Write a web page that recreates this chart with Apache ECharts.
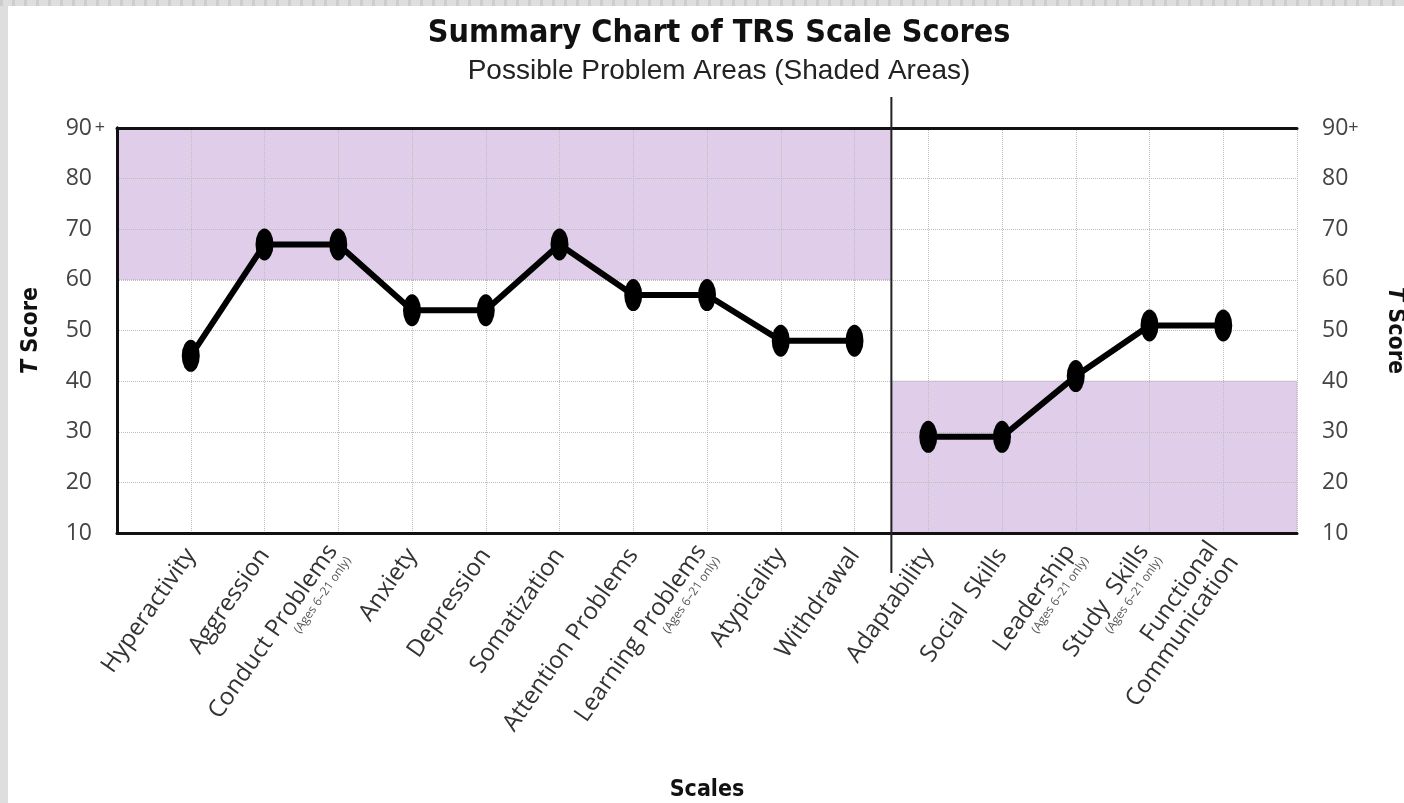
<!DOCTYPE html>
<html>
<head>
<meta charset="utf-8">
<title>Summary Chart of TRS Scale Scores</title>
<script src="https://cdn.jsdelivr.net/npm/echarts@6/dist/echarts.min.js"></script>
<style>
  html, body { margin: 0; padding: 0; width: 1404px; height: 803px; overflow: hidden;
    background: repeating-linear-gradient(90deg, #cdcdcd 0 3px, #dedede 3px 12px) top left / 100% 6px no-repeat, #dedede; }
  #chart { position: absolute; left: 8px; top: 6px; width: 1396px; height: 797px; background: #fff; }
</style>
</head>
<body>
<div id="chart"></div>
<script>
  // scale names along the x axis (positions 1..15)
  var scaleNames = ['Hyperactivity', 'Aggression', 'Conduct Problems', 'Anxiety', 'Depression',
    'Somatization', 'Attention Problems', 'Learning Problems', 'Atypicality', 'Withdrawal',
    'Adaptability', 'Social  Skills', 'Leadership', 'Study  Skills', 'Functional\nCommunication']
  var scaleNotes = ['', '', '(Ages 6–21 only)', '', '', '', '', '(Ages 6–21 only)', '', '',
    '', '', '(Ages 6–21 only)', '(Ages 6–21 only)', '']

  // T scores, clinical scales first then adaptive scales
  var clinicalScores = [45, 67, 67, 54, 54, 67, 57, 57, 48, 48]
  var adaptiveScores = [29, 29, 41, 51, 51]

  // y axis ticks
  var yMin = 10
  var yMax = 90
  var yStep = 10

  // shaded "possible problem" areas: [x from, x to], [T low, T high]
  var clinicalZoneX = [0, 10.5]
  var clinicalZoneY = [60, 90]
  var adaptiveZoneX = [10.5, 16]
  var adaptiveZoneY = [10, 40]
  var dividerAt = 10.5

  var chart = echarts.init(document.getElementById('chart'))

  var clinicalData = clinicalScores.map(function (v, i) { return [i + 1, v] })
  var adaptiveData = adaptiveScores.map(function (v, i) { return [clinicalScores.length + i + 1, v] })

  function scaleLabel(v) {
    var i = v - 1
    if (i < 0 || i >= scaleNames.length) return ''
    var s = scaleNames[i].split('\n').map(function (t) { return '{n|' + t + '}' }).join('\n')
    if (scaleNotes[i]) s += '\n{s|' + scaleNotes[i] + '}'
    return s
  }

  var lineStyle = { color: '#000', width: 6 }
  var pointStyle = { color: '#000' }
  var border = { show: true, lineStyle: { color: '#111', width: 3 } }
  var boldFont = 'DejaVu Sans Condensed, DejaVu Sans, sans-serif'
  var nameStyle = {
    fontFamily: boldFont, fontWeight: 'bold', fontSize: 23, color: '#111',
    rich: { i: { fontStyle: 'italic', fontWeight: 'bold', fontSize: 23, fontFamily: boldFont, color: '#111' } }
  }
  var tickRich = {
    v: { fontSize: 23, color: '#444', fontFamily: 'Open Sans, sans-serif' },
    p: { fontSize: 18, color: '#444', fontFamily: 'Open Sans, sans-serif', width: 16, align: 'left' },
    g: { width: 16 }
  }

  chart.setOption({
    animation: false,
    textStyle: { fontFamily: 'Open Sans, sans-serif' },
    title: {
      text: 'Summary Chart of TRS Scale Scores',
      subtext: 'Possible Problem Areas (Shaded Areas)',
      left: 706,
      textAlign: 'center',
      top: 7,
      itemGap: 7,
      textStyle: { fontFamily: boldFont, fontWeight: 'bold', fontSize: 32, color: '#111' },
      subtextStyle: { fontFamily: 'Liberation Sans Narrow, sans-serif', fontSize: 28, color: '#222' }
    },
    grid: { left: 109, right: 107, top: 122, bottom: 270, outerBoundsMode: 'none' },
    xAxis: [{
      type: 'value',
      min: 0,
      max: 16,
      interval: 1,
      z: 3,
      name: 'Scales',
      nameLocation: 'middle',
      nameGap: 246,
      nameTextStyle: { fontFamily: boldFont, fontWeight: 'bold', fontSize: 23, color: '#111' },
      axisLine: border,
      axisTick: { show: false },
      splitLine: { show: true, lineStyle: { color: '#bdbdbd', type: 'dotted', width: 1 } },
      axisLabel: {
        rotate: 55,
        margin: 18,
        color: '#333',
        formatter: scaleLabel,
        rich: {
          n: { fontSize: 24, color: '#333', fontFamily: 'Open Sans, sans-serif', lineHeight: 25 },
          s: { fontSize: 12, color: '#555', fontFamily: 'Open Sans, sans-serif', lineHeight: 14 }
        }
      }
    }, {
      type: 'value',
      position: 'top',
      min: 0,
      max: 16,
      z: 3,
      axisLine: border,
      axisTick: { show: false },
      axisLabel: { show: false },
      splitLine: { show: false }
    }],
    yAxis: [{
      type: 'value',
      min: yMin,
      max: yMax,
      interval: yStep,
      z: 3,
      name: '{i|T} Score',
      nameLocation: 'middle',
      nameGap: 74,
      nameTextStyle: nameStyle,
      axisLine: border,
      axisTick: { show: false },
      splitLine: { show: true, lineStyle: { color: '#bdbdbd', type: 'dotted', width: 1 } },
      axisLabel: {
        margin: 9,
        rich: tickRich,
        formatter: function (v) { return v === yMax ? '{v|' + v + '}{p|+}' : '{v|' + v + '}{g|}' }
      }
    }, {
      type: 'value',
      position: 'right',
      min: yMin,
      max: yMax,
      interval: yStep,
      z: 3,
      name: '{i|T} Score',
      nameLocation: 'middle',
      nameRotate: -90,
      nameGap: 86,
      nameTextStyle: nameStyle,
      axisLine: border,
      axisTick: { show: false },
      splitLine: { show: false },
      axisLabel: {
        margin: 25,
        rich: tickRich,
        formatter: function (v) { return v === yMax ? '{v|' + v + '}{p|+}' : '{v|' + v + '}' }
      }
    }],
    series: [{
      // shaded problem areas
      type: 'line',
      data: [],
      z: 1,
      silent: true,
      markArea: {
        silent: true,
        itemStyle: { color: '#dfcdea', borderColor: '#b9a6c4', borderWidth: 1, borderType: 'dotted' },
        data: [
          [{ xAxis: clinicalZoneX[0], yAxis: clinicalZoneY[0] }, { xAxis: clinicalZoneX[1], yAxis: clinicalZoneY[1] }],
          [{ xAxis: adaptiveZoneX[0], yAxis: adaptiveZoneY[0] }, { xAxis: adaptiveZoneX[1], yAxis: adaptiveZoneY[1] }]
        ]
      }
    }, {
      name: 'Clinical',
      type: 'line',
      z: 5,
      data: clinicalData,
      symbol: 'circle',
      symbolSize: [18, 32],
      lineStyle: lineStyle,
      itemStyle: pointStyle
    }, {
      name: 'Adaptive',
      type: 'line',
      z: 5,
      data: adaptiveData,
      symbol: 'circle',
      symbolSize: [18, 32],
      lineStyle: lineStyle,
      itemStyle: pointStyle
    }, {
      // divider between clinical and adaptive scales, running past the plot
      type: 'custom',
      z: 5,
      silent: true,
      data: [[dividerAt]],
      renderItem: function (params, api) {
        var top = api.coord([api.value(0), yMax])
        var bottom = api.coord([api.value(0), yMin])
        return {
          type: 'line',
          shape: { x1: top[0], y1: top[1] - 31, x2: bottom[0], y2: bottom[1] + 40 },
          style: { stroke: '#222', lineWidth: 2 }
        }
      }
    }]
  })
</script>
</body>
</html>
